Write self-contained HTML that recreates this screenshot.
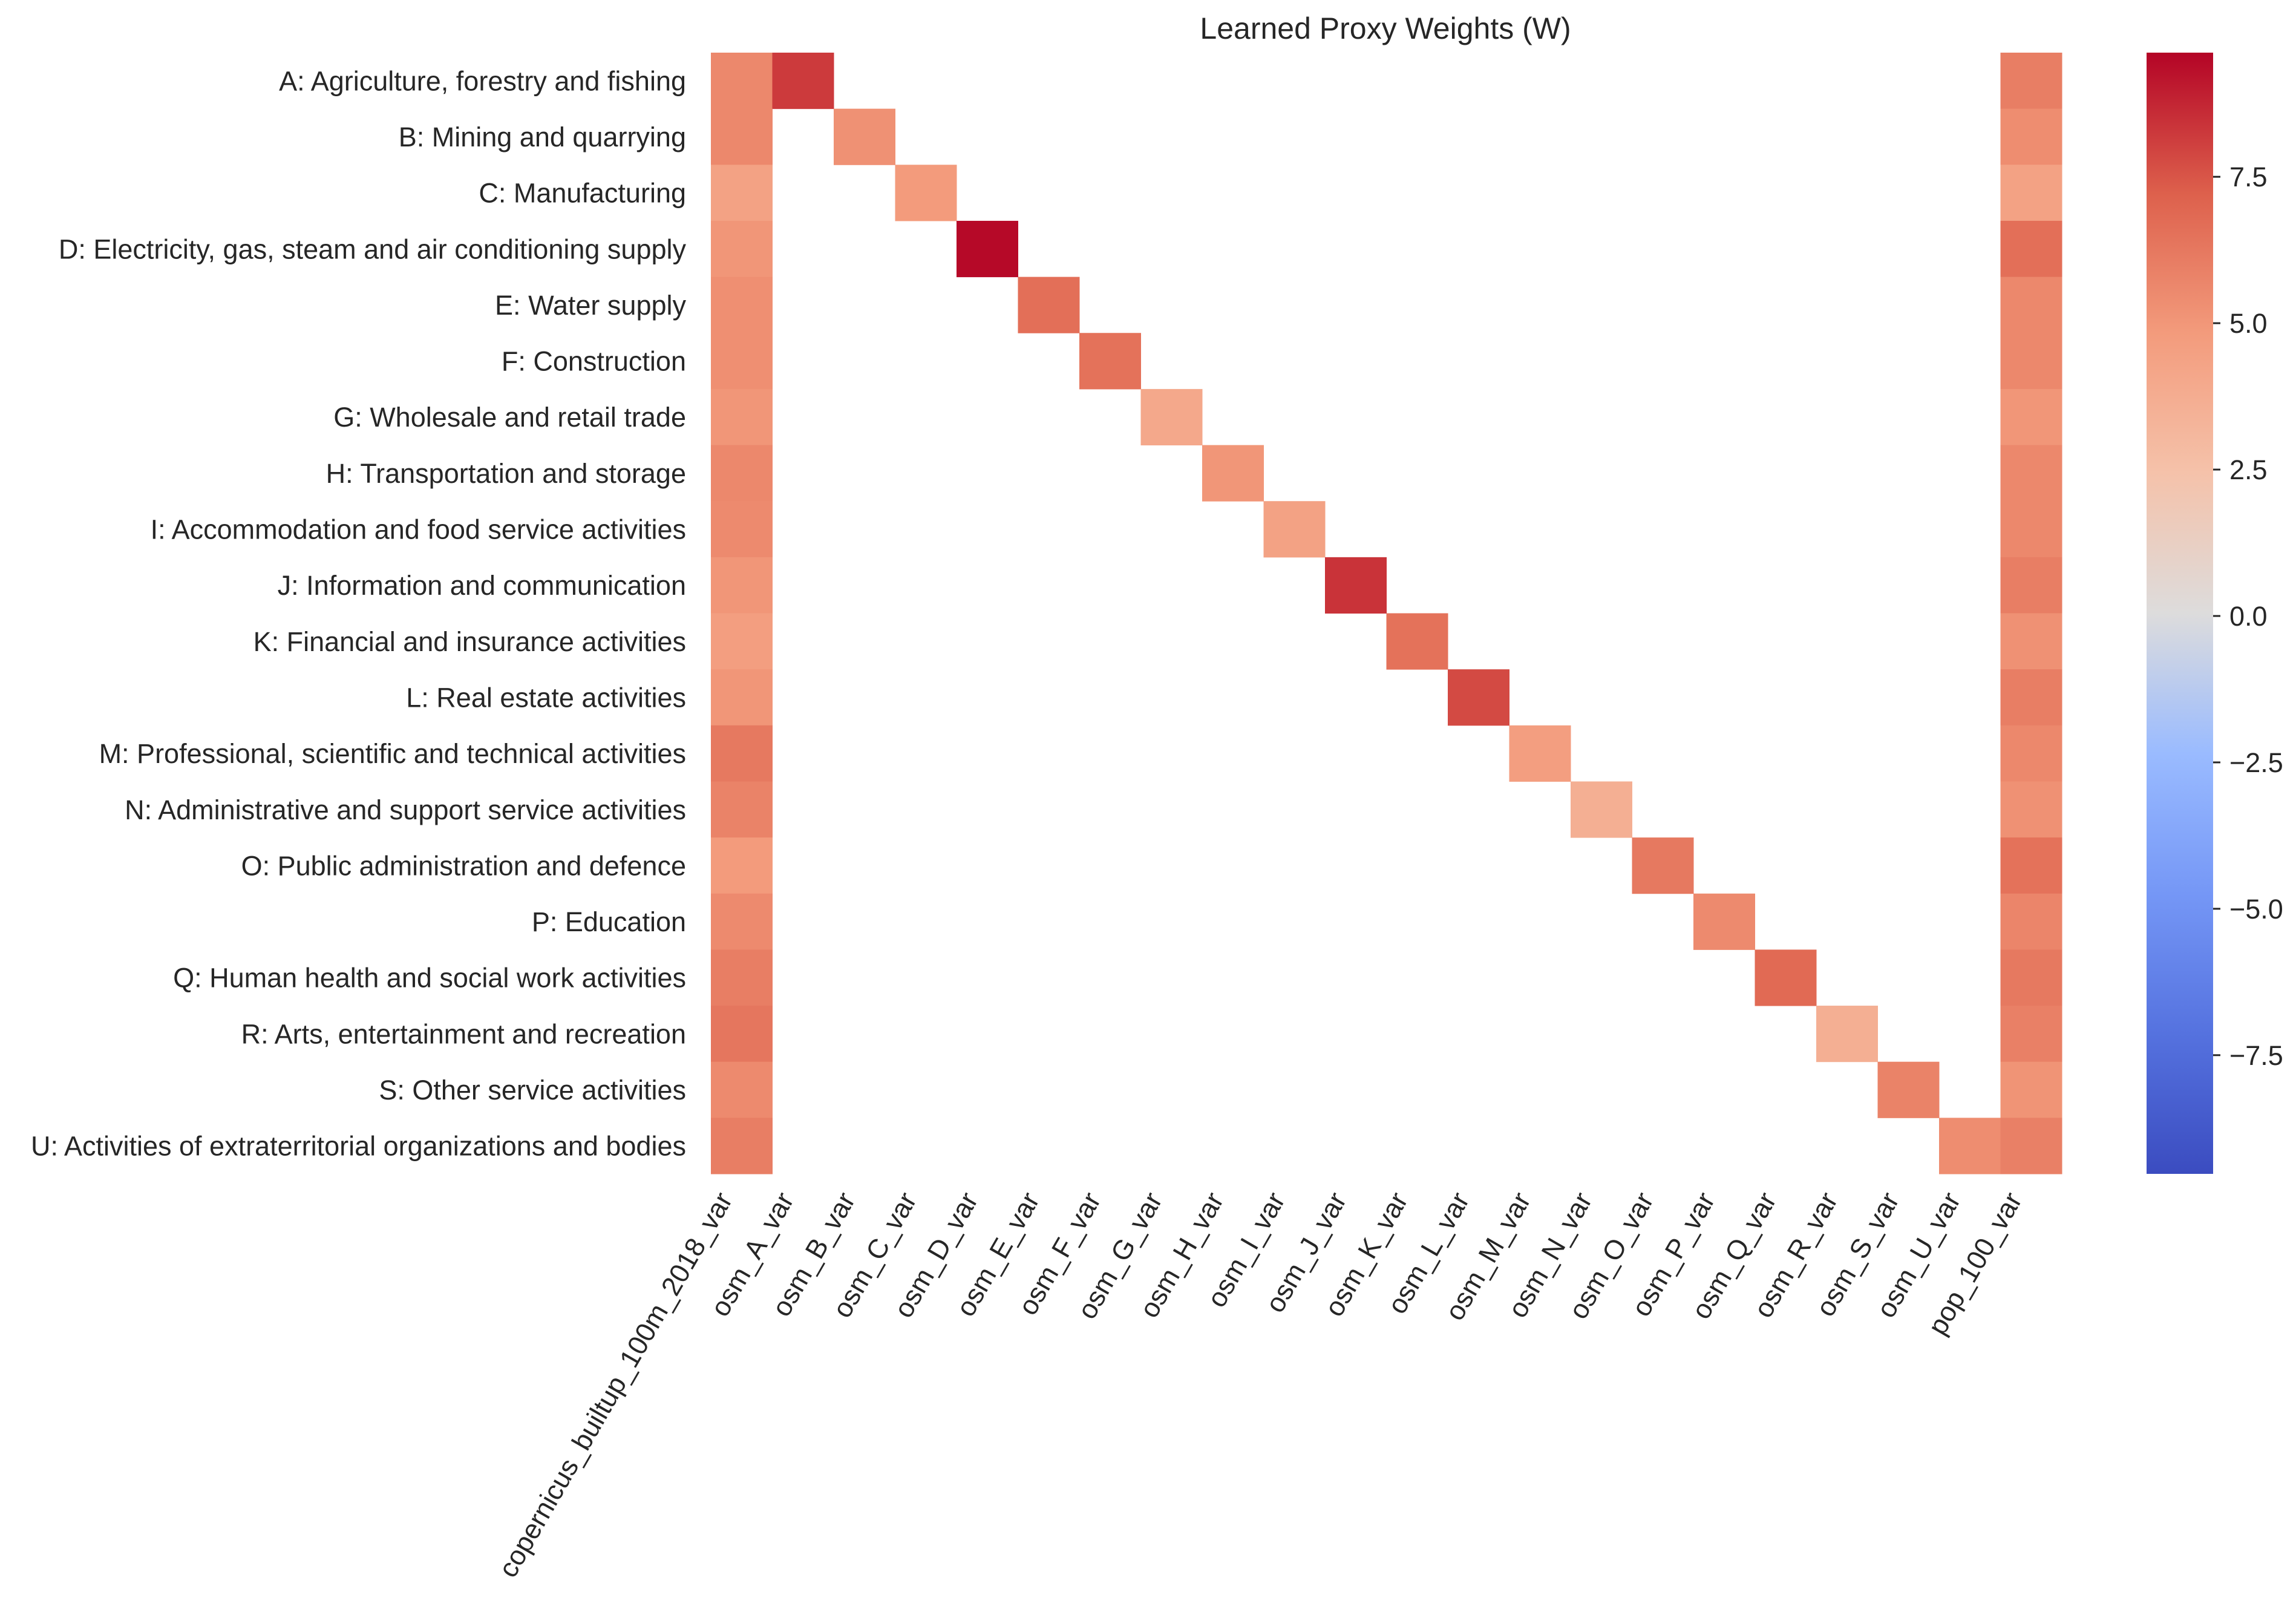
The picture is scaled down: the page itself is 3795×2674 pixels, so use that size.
<!DOCTYPE html>
<html><head><meta charset="utf-8"><style>
html,body{margin:0;padding:0;background:#fff}
svg text{font-family:"Liberation Sans",Arial,sans-serif;fill:#262626}
</style></head><body>
<svg id="s" width="3795" height="2669" xmlns="http://www.w3.org/2000/svg">
<defs>
<linearGradient id="cb" x1="0" y1="1" x2="0" y2="0">
<stop offset="0" stop-color="#3b4cc0"/><stop offset="0.125" stop-color="#5572df"/>
<stop offset="0.25" stop-color="#7597f6"/><stop offset="0.375" stop-color="#9abbff"/>
<stop offset="0.5" stop-color="#dddcdc"/><stop offset="0.625" stop-color="#f5c2aa"/>
<stop offset="0.75" stop-color="#f39b7c"/><stop offset="0.875" stop-color="#dd604c"/>
<stop offset="1" stop-color="#b40426"/>
</linearGradient>
</defs>
<text x="2290" y="64" font-size="50" text-anchor="middle">Learned Proxy Weights (W)</text>
<rect x="3548" y="87" width="110" height="1853" fill="url(#cb)"/>
</svg>
<script>
var s=document.getElementById('s');var NS='http://www.w3.org/2000/svg';
function el(t,a,txt){var e=document.createElementNS(NS,t);for(var k in a)e.setAttribute(k,a[k]);if(txt!==undefined)e.textContent=txt;s.appendChild(e);return e;}
var stops=[[0,[59,76,192]],[0.125,[85,114,223]],[0.25,[117,151,246]],[0.375,[154,187,255]],[0.5,[221,220,220]],[0.625,[245,194,170]],[0.75,[243,155,124]],[0.875,[221,96,76]],[1,[180,4,38]]];
function col(v){var t=0.5+v/(2*9.62);t=Math.max(0,Math.min(1,t));for(var i=1;i<stops.length;i++){if(t<=stops[i][0]){var a=stops[i-1],b=stops[i],f=(t-a[0])/(b[0]-a[0]);var c=a[1].map(function(x,j){return Math.round(x+(b[1][j]-x)*f)});return 'rgb('+c.join(',')+')';}}return 'rgb(180,4,38)';}
var rows=["A: Agriculture, forestry and fishing","B: Mining and quarrying","C: Manufacturing","D: Electricity, gas, steam and air conditioning supply","E: Water supply","F: Construction","G: Wholesale and retail trade","H: Transportation and storage","I: Accommodation and food service activities","J: Information and communication","K: Financial and insurance activities","L: Real estate activities","M: Professional, scientific and technical activities","N: Administrative and support service activities","O: Public administration and defence","P: Education","Q: Human health and social work activities","R: Arts, entertainment and recreation","S: Other service activities","U: Activities of extraterritorial organizations and bodies"];
var letters="ABCDEFGHIJKLMNOPQRSU".split("");
var cols=["copernicus_builtup_100m_2018_var"].concat(letters.map(function(l){return "osm_"+l+"_var"})).concat(["pop_100_var"]);
var c0=[5.6,5.6,4.4,5.0,5.3,5.3,5.0,5.6,5.5,5.0,4.6,5.0,6.2,5.8,4.8,5.5,6.0,6.3,5.5,6.0];
var pop=[6.0,5.4,4.4,6.6,5.6,5.6,5.0,5.6,5.6,6.0,5.2,6.0,5.6,5.2,6.5,5.7,6.2,5.9,5.1,5.9];
var dg=[8.2,5.2,4.8,9.5,6.6,6.5,4.0,5.0,4.4,8.4,6.5,7.8,4.6,3.6,6.2,5.5,6.8,3.6,5.8,5.4];
var X0=1175,Y0=87,CW=(3408-1175)/22,RH=(1940-87)/20;
for(var i=0;i<20;i++){
 var y=Y0+i*RH;
 el('rect',{x:X0,y:y,width:CW+0.5,height:RH+0.5,fill:col(c0[i])});
 el('rect',{x:X0+(i+1)*CW,y:y,width:CW+0.5,height:RH+0.5,fill:col(dg[i])});
 el('rect',{x:X0+21*CW,y:y,width:CW+0.5,height:RH+0.5,fill:col(pop[i])});
 el('text',{x:1134,y:y+RH/2+16,'font-size':45,'text-anchor':'end'},rows[i]);
}
for(var j=0;j<22;j++){
 var cx=X0+(j+0.5)*CW-14,cy=1982;
 el('text',{x:cx,y:cy,'font-size':45,'text-anchor':'end',transform:'rotate(-60 '+cx+' '+cy+')'},cols[j]);
}
var ticks=[7.5,5,2.5,0,-2.5,-5,-7.5];
ticks.forEach(function(v){var y=1018-v*(1018-87)/9.62;
 el('line',{x1:3658,x2:3670,y1:y,y2:y,stroke:'#262626','stroke-width':3});
 el('text',{x:3685,y:y+16,'font-size':45},(v<0?'\u2212':'')+Math.abs(v).toFixed(1));
});
</script>
</body></html>
